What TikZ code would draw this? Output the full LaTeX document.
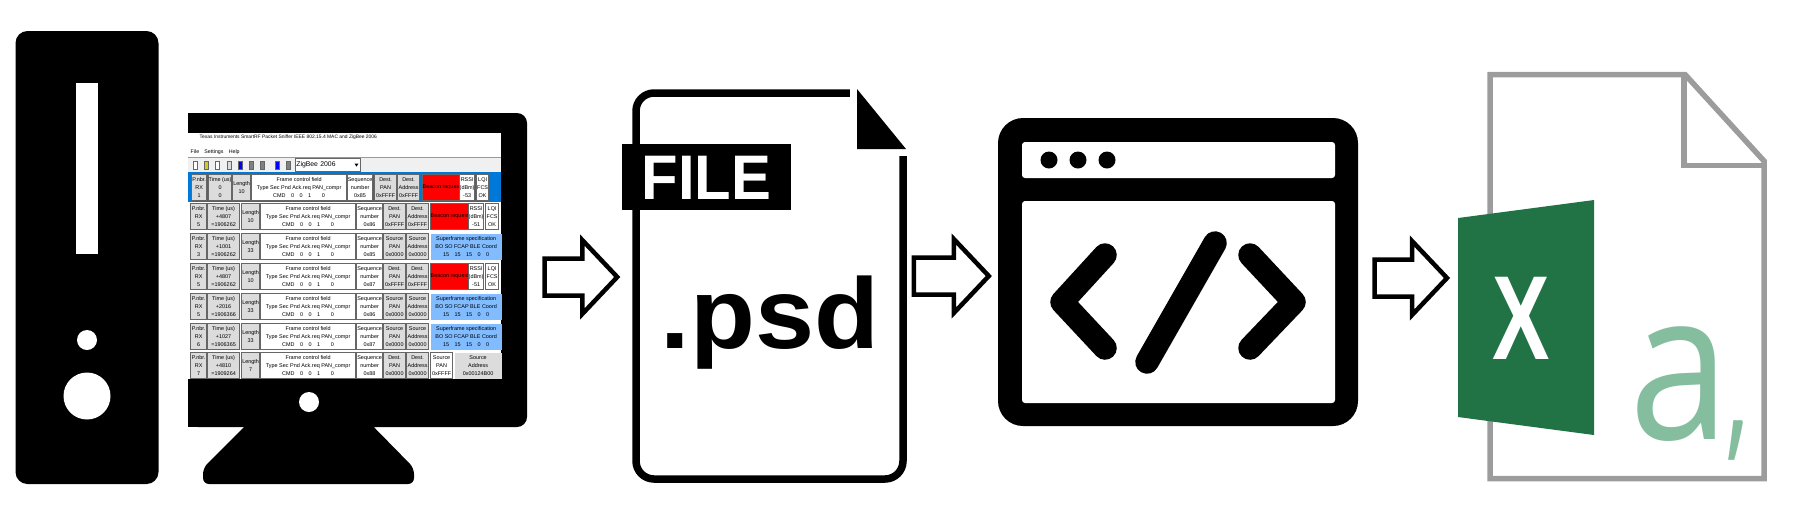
\documentclass[tikz,border=0pt]{standalone}
\usepackage{fontspec}
\setmainfont{Liberation Sans}
\newfontfamily\sheetfont{Open Sans}
\usepackage{xcolor}
\usetikzlibrary{calc}
\definecolor{cellgray}{HTML}{DCDCDC}
\definecolor{bandblue}{HTML}{0078D7}
\definecolor{specblue}{HTML}{80BCFF}
\definecolor{barline}{HTML}{F0F0F0}
\definecolor{xlgreen}{HTML}{217346}
\definecolor{xllight}{HTML}{85BE9E}
\definecolor{sheetgray}{HTML}{9C9C9C}
\tikzset{
    sized/.style 2 args={minimum width=(#1)*0.01cm, minimum height=(#2)*0.01cm},
    solid black/.style={fill=black, inner sep=0pt},
    hole/.style={fill=white, circle, inner sep=0pt},
    panel/.style={fill=white, inner sep=0pt, rounded corners=0.03cm},
    tagline/.style={line width=0.235cm, line cap=round, line join=round},
    cellbox/.style={draw=black!60, line width=0.35pt, inner sep=0pt, anchor=north west, align=center,
        font=\fontsize{1.55}{2.35}\selectfont},
    hollowarrow/.style={draw=black, fill=white, line width=0.045cm, line join=miter,
        to path={($(\tikztostart)+(0,-18.5)$) -- ($(\tikztotarget)+(-35,-18.5)$)
            -- ($(\tikztotarget)+(-35,-37)$) -- (\tikztotarget) -- ($(\tikztotarget)+(-35,37)$)
            -- ($(\tikztotarget)+(-35,18.5)$) -- ($(\tikztostart)+(0,18.5)$) -- cycle}}
}
\def\rowh{26}
\newcommand{\cell}[5]{\node[cellbox, fill=#4, sized={#3-#2}{\rowh}] (#1) at (#2,0) {#5};}
% one line of the packet list, up to the address columns
\newcommand{\pktrow}[9]{%
    \begin{scope}[shift={(0,#2)}]
    \cell{#1flag}{190}{206}{cellgray}{P.nbr.\\RX\\#3}
    \cell{#1time}{207}{239}{cellgray}{Time (us)\\#4\\#5}
    \cell{#1len}{241}{259}{cellgray}{Length\\#6}
    \cell{#1frame}{260}{355}{white}{Frame control field\\Type Sec Pnd Ack.req PAN\_compr\\CMD\quad 0\quad 0\quad 1\quad\quad 0}
    \cell{#1seq}{356}{382}{white}{Sequence\\number\\#7}
    \cell{#1pan}{383}{405}{cellgray}{#8}
    \cell{#1addr}{406}{428}{cellgray}{#9}
    \end{scope}}
\newcommand{\beacontail}[2]{%
    \begin{scope}[shift={(0,#2)}]
    \cell{#1cmd}{430}{467}{red}{Beacon request}
    \cell{#1rssi}{468}{483}{white}{RSSI\\(dBm)\\-51}
    \cell{#1lqi}{485}{498}{white}{LQI\\FCS\\OK}
    \end{scope}}
\newcommand{\spectail}[2]{%
    \begin{scope}[shift={(0,#2)}]
    \node[cellbox, draw=none, fill=specblue, sized={71}{\rowh}] (#1spec) at (430,0)
        {Superframe specification\\BO SO FCAP BLE Coord\\15\quad 15\quad 15\quad 0\quad 0};
    \end{scope}}
\begin{document}
\begin{tikzpicture}[x=0.01cm,y=-0.01cm]
    \useasboundingbox (0,0) rectangle (1813,523);

    % tower
    \node[solid black, rounded corners=0.12cm, sized={143}{453}] (tower) at (87,257.5) {};
    \node[fill=white, inner sep=0pt, sized={22}{171}] (slot) at (87,168.5) {};
    \node[hole, sized={20}{20}] (ledsmall) at (87,340) {};
    \node[hole, sized={47}{47}] (ledbig) at (87,396) {};

    % monitor
    \fill[rounded corners=0.06cm] (254,417) -- (203,468) -- (203,484) -- (414,484) -- (414,468) -- (364,417) -- cycle;
    \node[solid black, rounded corners=0.1cm, sized={339}{314}] (monitor) at (357.5,270) {};
    \fill (188,113) rectangle (220,140);
    \fill (188,400) rectangle (220,427);
    \node[hole, sized={20}{20}] (camera) at (309,402) {};
    \node[fill=white, inner sep=0pt, sized={313}{246}] (screen) at (344.5,256) {};

    % sniffer window
    \node[anchor=west, inner sep=0pt, font=\fontsize{1.4}{2}\selectfont] (wintitle) at (199,137.5)
        {Texas Instruments SmartRF Packet Sniffer IEEE 802.15.4 MAC and ZigBee 2006};
    \node[anchor=west, inner sep=0pt, font=\fontsize{1.5}{2}\selectfont] (winmenu) at (190,152) {File\quad Settings\quad Help};
    \fill[barline] (188,158) rectangle (501,172);
    \draw[black!40, line width=0.2pt] (188,157.5) -- (501,157.5);
    \foreach \ix/\colr in {193/white,204/yellow!80!black,215/white,227/cellgray,238/blue,249/gray,260/gray,275/blue,286/gray}
        \draw[draw=black!60, fill=\colr, line width=0.2pt] (\ix,161) rectangle (\ix+4,169);
    \node[draw=black!60, fill=white, line width=0.2pt, anchor=west, inner sep=0pt, sized={65}{13}, text width=0.63cm, align=left,
        font=\fontsize{1.95}{2}\selectfont] (datefield) at (295,165) {ZigBee 2006};
    \fill (354.5,163.5) -- (358.5,163.5) -- (356.5,166.5) -- cycle;

    % packet list
    \fill[bandblue] (188,172) rectangle (501,202);
    \begin{scope}[shift={(0,174)}]
    \cell{topflag}{191}{206}{cellgray}{P.nbr.\\RX\\1}
    \cell{toptime}{208}{231}{cellgray}{Time (us)\\0\\0}
    \cell{toplen}{232}{250}{cellgray}{Length\\10}
    \cell{topframe}{251}{346}{white}{Frame control field\\Type Sec Pnd Ack.req PAN\_compr\\CMD\quad 0\quad 0\quad 1\quad\quad 0}
    \cell{topseq}{347}{372}{white}{Sequence\\number\\0x85}
    \cell{toppan}{374}{396}{cellgray}{Dest.\\PAN\\0xFFFF}
    \cell{topaddr}{397}{419}{cellgray}{Dest.\\Address\\0xFFFF}
    \cell{topcmd}{422}{458}{red}{Beacon request}
    \cell{toprssi}{459}{474}{white}{RSSI\\(dBm)\\-53}
    \cell{toplqi}{476}{488}{white}{LQI\\FCS\\OK}
    \end{scope}
    \pktrow{ra}{203}{5}{+4807}{=1906262}{10}{0x86}{Dest.\\PAN\\0xFFFF}{Dest.\\Address\\0xFFFF}
    \beacontail{ra}{203}
    \pktrow{rb}{233}{3}{+1001}{=1906262}{33}{0x85}{Source\\PAN\\0x0000}{Source\\Address\\0x0000}
    \spectail{rb}{233}
    \pktrow{rc}{263}{5}{+4807}{=1906262}{10}{0x87}{Dest.\\PAN\\0xFFFF}{Dest.\\Address\\0xFFFF}
    \beacontail{rc}{263}
    \pktrow{rd}{293}{5}{+2016}{=1906366}{33}{0x86}{Source\\PAN\\0x0000}{Source\\Address\\0x0000}
    \spectail{rd}{293}
    \pktrow{re}{323}{6}{+1027}{=1906365}{33}{0x87}{Source\\PAN\\0x0000}{Source\\Address\\0x0000}
    \spectail{re}{323}
    \pktrow{rf}{352}{7}{+4810}{=1909264}{7}{0x88}{Dest.\\PAN\\0x0000}{Dest.\\Address\\0x0000}
    \begin{scope}[shift={(0,352)}]
    \cell{rfsrc}{430}{452}{white}{Source\\PAN\\0xFFFF}
    \node[cellbox, draw=none, fill=cellgray, sized={47}{\rowh}] (rfsrcaddr) at (454,0) {Source\\Address\\0x00124B00};
    \end{scope}

    % psd file
    \node[draw=black, fill=white, line width=0.075cm, rounded corners=0.18cm, inner sep=0pt, sized={267}{386}] (psdbody) at (769.5,286) {};
    \fill[white] (850,80) rectangle (915,156);
    \fill (857,89) -- (906,149) -- (857,149) -- cycle;
    \node[solid black, sized={169}{66}] (filetag) at (706.5,177) {};
    \node[text=white, inner sep=0pt, transform shape, xscale=0.95, font=\bfseries\fontsize{17.9}{18}\selectfont] (filetext) at (706.5,177.5) {FILE};
    \node[inner sep=0pt, anchor=base, transform shape, xscale=1.06, font=\bfseries\fontsize{28.5}{30}\selectfont] (psdtext) at (770,348) {.psd};

    % code window
    \node[solid black, rounded corners=0.25cm, sized={360}{308}] (codewin) at (1178,272) {};
    \node[panel, sized={313}{36}] (codebar) at (1178.5,160) {};
    \node[panel, sized={313}{202}] (codepane) at (1178.5,302) {};
    \foreach \dx [count=\di] in {1049,1078,1107}
        \node[solid black, circle, sized={17}{17}] (dot\di) at (\dx,160) {};
    \draw[tagline] (1105,255) -- (1062,302) -- (1105,348);
    \draw[tagline] (1250,255) -- (1294,302) -- (1250,348);
    \draw[tagline] (1215,243) -- (1147,362);

    % excel sheet
    \draw[sheetgray, line width=0.055cm, line join=miter] (1685,74.5) -- (1490,74.5) -- (1490,478.5) -- (1764,478.5) -- (1764,161) -- cycle;
    \draw[sheetgray, line width=0.055cm] (1684,74.5) -- (1684,165.5) -- (1764,165.5);
    \fill[xlgreen] (1458,218) -- (1594,200) -- (1594,435) -- (1458,417) -- cycle;
    \node[text=white, inner sep=0pt, transform shape, xscale=0.72, font=\bfseries\fontsize{34}{34}\selectfont] (xlmark) at (1521,318.5) {X};
    \node[text=xllight, anchor=base west, inner sep=0pt, transform shape, xscale=0.87, font=\sheetfont\fontsize{59}{60}\selectfont] (sheeta) at (1629,439) {a};
    \node[text=xllight, anchor=base west, inner sep=0pt, transform shape, xscale=0.62, font=\sheetfont\fontsize{46}{46}\selectfont] (sheetcomma) at (1725,439) {,};
    \coordinate (xlbook) at (1458,278);

    % arrows
    \draw[hollowarrow] ($(monitor.east)+(17,7)$) to ($(psdbody.west)+(-15,-9)$);
    \draw[hollowarrow] ($(psdbody.east)+(7,-10)$) to ($(codewin.west)+(-8.5,4)$);
    \draw[hollowarrow] ($(codewin.east)+(16,6)$) to ($(xlbook)+(-11,0)$);
\end{tikzpicture}
\end{document}
